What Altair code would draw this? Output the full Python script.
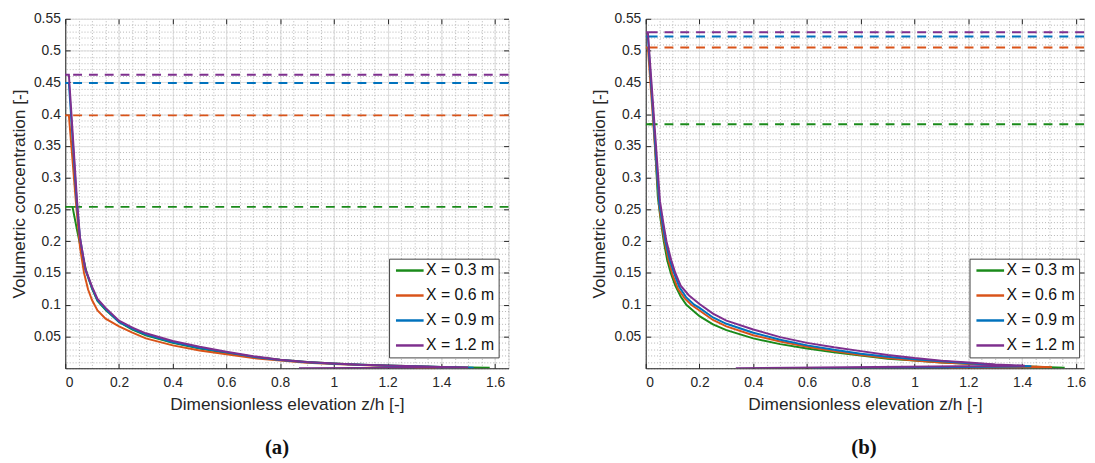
import altair as alt
import pandas as pd

SERIES = ["X = 0.3 m", "X = 0.6 m", "X = 0.9 m", "X = 1.2 m"]
COLORS = ["#1a8a1a", "#d95319", "#0072bd", "#7e2f8e"]

# ---------------- panel (a) ----------------
A_CMAX = [0.254, 0.398, 0.449, 0.462]
A_Z_03 = [0, 0.027, 0.045, 0.06, 0.08, 0.1, 0.12, 0.15, 0.2, 0.25, 0.3, 0.4, 0.5, 0.6, 0.7, 0.8, 0.9, 1.0, 1.1, 1.2, 1.3, 1.4, 1.5, 1.58, 1.5]
A_C_03 = [0.254, 0.254, 0.215, 0.185, 0.15, 0.125, 0.106, 0.092, 0.073, 0.061, 0.052, 0.040, 0.031, 0.024, 0.018, 0.0135, 0.010, 0.0075, 0.0056, 0.0042, 0.0030, 0.0020, 0.0012, 0.0007, 0.0]
A_Z_06 = [0, 0.0135, 0.04, 0.055, 0.07, 0.085, 0.1, 0.12, 0.15, 0.2, 0.25, 0.3, 0.4, 0.5, 0.6, 0.7, 0.8, 0.9, 1.0, 1.1, 1.2, 1.3, 1.4, 1.5, 1.3]
A_C_06 = [0.398, 0.398, 0.26, 0.19, 0.15, 0.124, 0.107, 0.091, 0.078, 0.066, 0.056, 0.047, 0.036, 0.028, 0.022, 0.016, 0.012, 0.0088, 0.0066, 0.005, 0.0037, 0.0027, 0.0018, 0.001, 0.0]
A_Z_09 = [0, 0.0135, 0.043, 0.055, 0.075, 0.1, 0.12, 0.15, 0.2, 0.25, 0.3, 0.4, 0.5, 0.6, 0.7, 0.8, 0.9, 1.0, 1.1, 1.2, 1.3, 1.4, 1.52, 1.38]
A_C_09 = [0.449, 0.449, 0.26, 0.205, 0.155, 0.126, 0.107, 0.093, 0.073, 0.062, 0.053, 0.041, 0.032, 0.025, 0.018, 0.013, 0.0096, 0.0072, 0.0054, 0.004, 0.003, 0.002, 0.001, 0.0]
A_Z_12 = [0, 0.0135, 0.044, 0.055, 0.075, 0.1, 0.12, 0.15, 0.2, 0.25, 0.3, 0.4, 0.5, 0.6, 0.7, 0.8, 0.9, 1.0, 1.1, 1.2, 1.3, 1.4, 1.5, 0.87]
A_C_12 = [0.462, 0.462, 0.263, 0.205, 0.156, 0.128, 0.109, 0.095, 0.075, 0.064, 0.055, 0.043, 0.034, 0.026, 0.019, 0.0135, 0.010, 0.0075, 0.0057, 0.0043, 0.0032, 0.0022, 0.0012, 0.0]

# ---------------- panel (b) ----------------
B_CMAX = [0.384, 0.505, 0.522, 0.529]
B_Z_03 = [0, 0.03, 0.045, 0.055, 0.067, 0.08, 0.093, 0.11, 0.13, 0.151, 0.2, 0.25, 0.3, 0.4, 0.5, 0.6, 0.7, 0.8, 0.9, 1.0, 1.1, 1.2, 1.3, 1.4, 1.5, 1.558, 1.4]
B_C_03 = [0.384, 0.384, 0.27, 0.235, 0.2, 0.17, 0.15, 0.13, 0.113, 0.1, 0.082, 0.069, 0.06, 0.047, 0.038, 0.031, 0.025, 0.02, 0.015, 0.012, 0.009, 0.007, 0.005, 0.003, 0.0018, 0.001, 0.0]
B_Z_06 = [0, 0.008, 0.05, 0.06, 0.07, 0.085, 0.1, 0.12, 0.145, 0.169, 0.2, 0.25, 0.3, 0.4, 0.5, 0.6, 0.7, 0.8, 0.9, 1.0, 1.1, 1.2, 1.3, 1.4, 1.511, 1.13]
B_C_06 = [0.505, 0.505, 0.255, 0.225, 0.2, 0.17, 0.147, 0.125, 0.11, 0.1, 0.091, 0.076, 0.066, 0.052, 0.042, 0.034, 0.027, 0.021, 0.016, 0.012, 0.009, 0.007, 0.005, 0.003, 0.0015, 0.0]
B_Z_09 = [0, 0.008, 0.05, 0.062, 0.073, 0.09, 0.105, 0.125, 0.15, 0.18, 0.2, 0.25, 0.3, 0.4, 0.5, 0.6, 0.7, 0.8, 0.9, 1.0, 1.1, 1.2, 1.3, 1.434, 0.62]
B_C_09 = [0.522, 0.522, 0.26, 0.228, 0.2, 0.17, 0.15, 0.128, 0.112, 0.1, 0.095, 0.08, 0.07, 0.056, 0.045, 0.036, 0.029, 0.023, 0.018, 0.014, 0.011, 0.008, 0.005, 0.003, 0.0]
B_Z_12 = [0, 0.008, 0.053, 0.065, 0.077, 0.095, 0.11, 0.13, 0.16, 0.2, 0.25, 0.3, 0.4, 0.5, 0.6, 0.7, 0.8, 0.9, 1.0, 1.1, 1.2, 1.3, 1.41, 0.335]
B_C_12 = [0.529, 0.529, 0.263, 0.23, 0.2, 0.17, 0.15, 0.13, 0.115, 0.101, 0.086, 0.075, 0.061, 0.049, 0.04, 0.033, 0.027, 0.021, 0.016, 0.012, 0.009, 0.006, 0.004, 0.0]

X_MAJOR = [0, 0.2, 0.4, 0.6, 0.8, 1.0, 1.2, 1.4, 1.6]
Y_MAJOR = [0.05, 0.1, 0.15, 0.2, 0.25, 0.3, 0.35, 0.4, 0.45, 0.5, 0.55]
X_MINOR = [round(i * 0.05, 2) for i in range(34)]
Y_MINOR = [round(i * 0.01, 2) for i in range(56)]

FONT = "Liberation Sans"
TXT = "#262626"


def curves_frame(zs, cs):
    rows = []
    for name, z, c in zip(SERIES, zs, cs):
        for i, (zz, cc) in enumerate(zip(z, c)):
            rows.append({"series": name, "i": i, "z": zz, "c": cc})
    return pd.DataFrame(rows)


def max_frame(cmax):
    return pd.DataFrame({"series": SERIES, "c": cmax})


def panel(zs, cs, cmax, width, xmax, caption, cap_dx):
    df = curves_frame(zs, cs)
    dm = max_frame(cmax)
    xs = alt.Scale(domain=[0, xmax], nice=False, zero=False)
    ys = alt.Scale(domain=[0, 0.55], nice=False)
    cs_ = alt.Scale(domain=SERIES, range=COLORS)
    legend = alt.Legend(
        title=None, orient="none", legendX=328, legendY=243,
        fillColor="white", strokeColor="#444444", padding=4, rowPadding=9.3,
        symbolType="M-2.8,0H2.8", symbolSize=100, symbolStrokeWidth=2.5,
        symbolOffset=9, labelOffset=8.5,
        labelFont=FONT, labelFontSize=16, labelColor="#111111")
    base = alt.Chart(df)

    minor = base.mark_line(opacity=0).encode(
        x=alt.X("z:Q", scale=xs, axis=alt.Axis(orient="top", values=X_MINOR, grid=True,
                gridDash=[1, 2], gridColor="#b5b5b5", gridWidth=1, labels=False,
                ticks=False, domain=False, title=None)),
        y=alt.Y("c:Q", scale=ys, axis=alt.Axis(orient="right", values=Y_MINOR, grid=True,
                gridDash=[1, 2], gridColor="#b5b5b5", gridWidth=1, labels=False,
                ticks=False, domain=False, title=None)),
        detail="series:N", order="i:Q")

    def tick_layer(xo, yo):
        return base.mark_line(opacity=0).encode(
            x=alt.X("z:Q", scale=xs, axis=alt.Axis(orient=xo, values=X_MAJOR, grid=False,
                    labels=False, ticks=True, tickSize=5, tickColor=TXT, offset=-5,
                    domain=False, title=None)),
            y=alt.Y("c:Q", scale=ys, axis=alt.Axis(orient=yo, values=Y_MAJOR, grid=False,
                    labels=False, ticks=True, tickSize=5, tickColor=TXT, offset=-5,
                    domain=False, title=None)),
            detail="series:N", order="i:Q")

    rules = alt.Chart(dm).mark_rule(strokeDash=[9, 7], strokeWidth=2).encode(
        y=alt.Y("c:Q", scale=ys, axis=None),
        color=alt.Color("series:N", scale=cs_, legend=legend))

    lines = base.mark_line(strokeWidth=2, clip=True).encode(
        x=alt.X("z:Q", scale=xs, axis=alt.Axis(orient="bottom", values=X_MAJOR, format="~g",
                grid=True, gridColor="#dedede", gridWidth=1, ticks=False, domain=True,
                domainColor=TXT, labelFont=FONT, labelFontSize=14, labelColor=TXT,
                labelPadding=7, title="Dimensionless elevation z/h [-]", titleFont=FONT,
                titleFontSize=17.5, titleFontWeight="normal", titleColor=TXT, titlePadding=7)),
        y=alt.Y("c:Q", scale=ys, axis=alt.Axis(orient="left", values=Y_MAJOR, format="~g",
                grid=True, gridColor="#dedede", gridWidth=1, ticks=False, domain=True,
                domainColor=TXT, labelFont=FONT, labelFontSize=14, labelColor=TXT,
                labelPadding=5, title="Volumetric concentration [-]", titleFont=FONT,
                titleFontSize=17.5, titleFontWeight="normal", titleColor=TXT, titlePadding=5)),
        color=alt.Color("series:N", scale=cs_, legend=legend),
        order="i:Q")

    return alt.layer(minor, tick_layer("bottom", "left"), tick_layer("top", "right"),
                     rules, lines).resolve_axis(x="independent", y="independent").properties(
        width=width, height=354,
        title=alt.TitleParams(caption, orient="bottom", font="Liberation Serif", fontSize=21,
                              fontWeight="bold", color="#111111", frame="group",
                              anchor="middle", offset=24, dx=cap_dx))


pa = panel([A_Z_03, A_Z_06, A_Z_09, A_Z_12], [A_C_03, A_C_06, A_C_09, A_C_12],
           A_CMAX, 449, 1.65, "(a)", -10)
pb = panel([B_Z_03, B_Z_06, B_Z_09, B_Z_12], [B_C_03, B_C_06, B_C_09, B_C_12],
           B_CMAX, 444, 1.63, "(b)", -1)

chart = alt.hconcat(pa, pb, spacing=81).resolve_scale(color="independent").resolve_legend(
    color="independent").properties(
    padding={"left": 2, "top": 0, "right": 0, "bottom": 0}
).configure_view(stroke=TXT, strokeWidth=1).configure(background="white")

chart.save("out.html", embed_options={"renderer": "svg", "actions": False})
